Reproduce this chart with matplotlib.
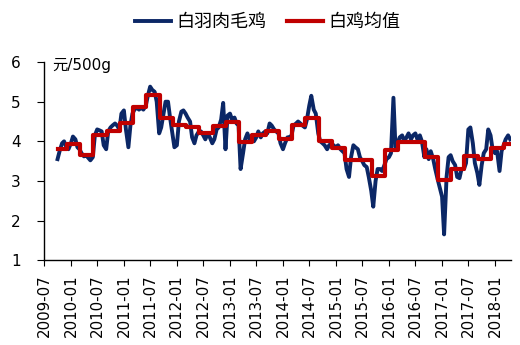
import pandas as pd
import matplotlib
matplotlib.use('Agg')
import matplotlib.pyplot as plt
import matplotlib.dates as mdates

plt.rcParams['font.family'] = ['DejaVu Sans', 'Noto Sans CJK SC']

# white feather broiler price, semi-monthly readings from 2009-10 (yuan/500g)
price_start = '2009-10-01'
price = [
    3.55, 3.75, 3.95, 4.00, 3.85, 3.80,                          # 2009 Q4
    3.95, 4.12, 4.05, 3.85, 3.80, 3.70, 3.62, 3.65, 3.58, 3.52, 3.60, 4.15,  # 2010 H1
    4.30, 4.28, 4.25, 3.90, 3.80, 4.25, 4.35, 4.40, 4.45, 4.40, 4.30, 4.70,  # 2010 H2
    4.78, 4.30, 3.85, 4.40, 4.70, 4.80, 4.85, 4.80, 4.85, 4.80, 4.90, 5.15,  # 2011 H1
    5.38, 5.30, 5.25, 5.00, 4.20, 4.35, 4.70, 5.00, 5.00, 4.60, 4.20, 3.85,  # 2011 H2
    3.90, 4.50, 4.75, 4.78, 4.70, 4.60, 4.50, 4.10, 3.95, 4.15, 4.25, 4.25,  # 2012 H1
    4.15, 4.05, 4.20, 4.10, 3.95, 4.05, 4.30, 4.35, 4.55, 4.97, 3.80, 4.65,  # 2012 H2
    4.70, 4.55, 4.60, 4.45, 4.40, 3.30, 3.70, 4.05, 4.20, 4.05, 4.15, 4.00,  # 2013 H1
    4.10, 4.25, 4.10, 4.20, 4.25, 4.20, 4.45, 4.40, 4.30, 4.25, 4.20, 3.95,  # 2013 H2
    3.80, 3.95, 4.10, 4.10, 4.15, 4.40, 4.45, 4.50, 4.45, 4.40, 4.35, 4.55,  # 2014 H1
    4.90, 5.15, 4.80, 4.70, 4.20, 4.00, 3.95, 3.90, 3.80, 3.90, 3.95, 3.90,  # 2014 H2
    3.85, 3.90, 3.80, 3.75, 3.70, 3.30, 3.10, 3.60, 3.90, 3.85, 3.80, 3.60,  # 2015 H1
    3.50, 3.40, 3.35, 3.10, 2.75, 2.35, 3.00, 3.30, 3.30, 3.25, 3.40, 3.55,  # 2015 H2
    3.60, 3.70, 5.10, 3.85, 3.95, 4.10, 4.15, 4.00, 4.10, 4.20, 4.05, 4.15,  # 2016 H1
    4.20, 4.05, 4.15, 4.00, 3.60, 3.80, 3.55, 3.75, 3.55, 3.30, 3.05, 2.85,  # 2016 H2
    2.60, 1.65, 3.10, 3.60, 3.65, 3.50, 3.40, 3.10, 3.07, 3.30, 3.30, 3.45,  # 2017 H1
    4.30, 4.35, 3.95, 3.45, 3.20, 2.90, 3.40, 3.70, 3.80, 4.30, 4.15, 3.80,  # 2017 H2
    3.70, 3.75, 3.25, 3.75, 3.90, 4.05, 4.15, 4.05,              # 2018
]

# quarterly average, 2009Q4 .. 2018Q2
avg = [
    3.80,
    3.93, 3.65, 4.17, 4.27,
    4.45, 4.87, 5.17, 4.60,
    4.40, 4.37, 4.21, 4.39,
    4.48, 3.99, 4.16, 4.27,
    4.05, 4.41, 4.60, 4.02,
    3.84, 3.53, 3.53, 3.12,
    3.78, 3.98, 3.98, 3.60,
    3.02, 3.30, 3.63, 3.55,
    3.82, 3.92,
]

price_dates = pd.date_range(price_start, periods=len(price), freq='SMS')
edges = pd.date_range('2010-01-01', periods=len(avg) - 1, freq='QS') - pd.Timedelta(days=27)
end = pd.Timestamp('2018-04-20')
avg_x = [pd.Timestamp(price_start)] + list(edges) + [end]
avg_y = avg + [avg[-1]]

fig = plt.figure(figsize=(5.2, 3.45), dpi=100)
ax = fig.add_axes([0.085, 0.246, 0.898, 0.574])

l1, = ax.plot(price_dates, price, color='#0b2766', linewidth=2.8, label='白羽肉毛鸡')
l2, = ax.step(avg_x, avg_y, where='post', color='#c00000', linewidth=3.0, label='白鸡均值')

ax.set_ylim(1, 6)
ax.set_yticks([1, 2, 3, 4, 5, 6])
ax.set_xlim(pd.Timestamp('2009-07-01'), pd.Timestamp('2018-04-22'))
ax.xaxis.set_major_locator(mdates.MonthLocator(bymonth=[1, 7]))
ax.xaxis.set_major_formatter(mdates.DateFormatter('%Y-%m'))

for s in ['top', 'right']:
    ax.spines[s].set_visible(False)
for s in ['left', 'bottom']:
    ax.spines[s].set_linewidth(1.0)

ax.tick_params(axis='y', direction='out', length=5, pad=12, labelsize=11)
ax.tick_params(axis='x', direction='out', length=4, pad=6, labelsize=10.8, labelrotation=90)

ax.text(0.017, 0.985, '元/500g', transform=ax.transAxes, fontsize=11, va='center', ha='left')

fig.legend(handles=[l1, l2], loc='center', bbox_to_anchor=(0.515, 0.936), ncol=2,
           frameon=False, fontsize=13, handlelength=2.0, handletextpad=0.3, columnspacing=1.1)

fig.savefig('out.png', dpi=100)
